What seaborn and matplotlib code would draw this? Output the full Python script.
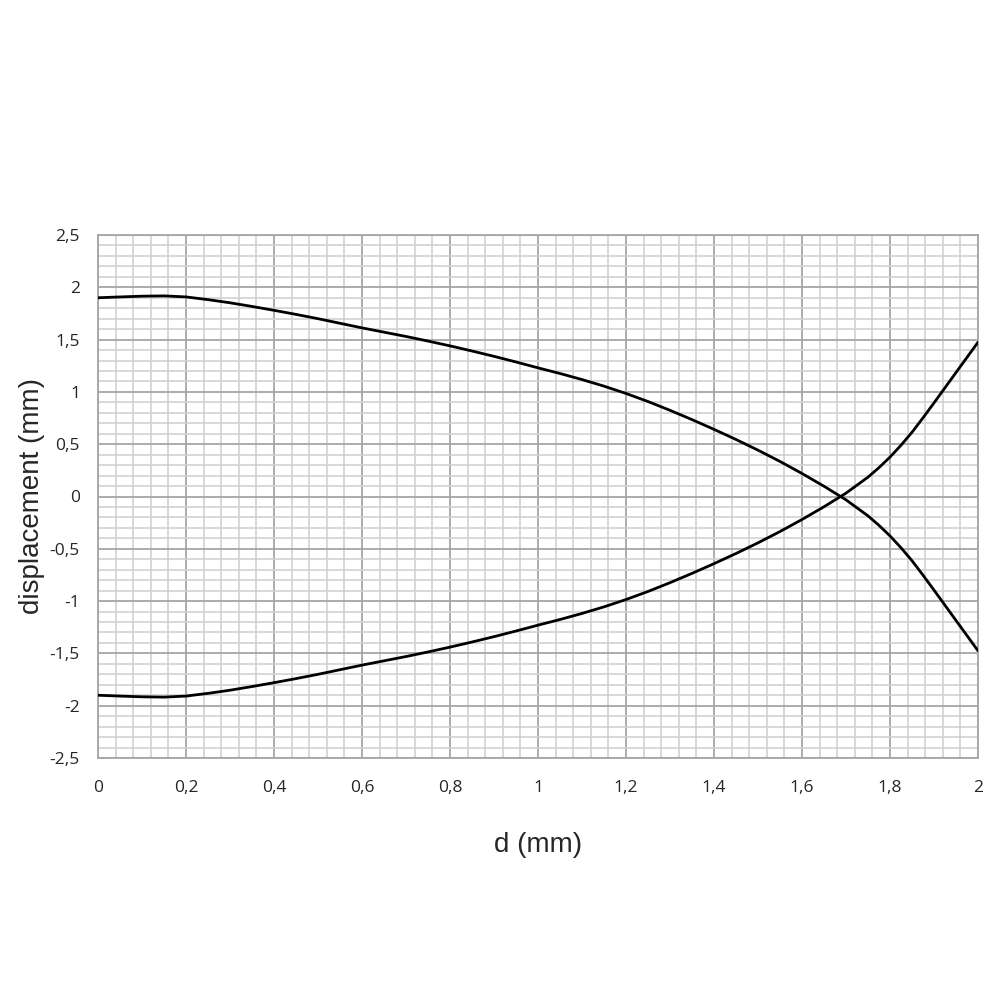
import numpy as np
import pandas as pd
import matplotlib
matplotlib.use("Agg")
import matplotlib.pyplot as plt
from matplotlib.ticker import MultipleLocator
import seaborn as sns

# values
d_mm = [0.00, 0.05, 0.10, 0.15, 0.20, 0.25, 0.30, 0.35, 0.40, 0.45,
        0.50, 0.55, 0.60, 0.65, 0.70, 0.75, 0.80, 0.85, 0.90, 0.95,
        1.00, 1.05, 1.10, 1.15, 1.20, 1.25, 1.30, 1.35, 1.40, 1.45,
        1.50, 1.55, 1.60, 1.65, 1.70, 1.75, 1.775, 1.80, 1.825, 1.85,
        1.875, 1.90, 1.95, 2.00]
upper = [1.90, 1.908, 1.915, 1.918, 1.908, 1.882, 1.852, 1.817, 1.78, 1.741,
         1.70, 1.656, 1.612, 1.571, 1.53, 1.486, 1.44, 1.391, 1.34, 1.286,
         1.23, 1.176, 1.118, 1.055, 0.985, 0.908, 0.824, 0.735, 0.642, 0.545,
         0.443, 0.335, 0.22, 0.098, -0.032, -0.185, -0.276, -0.377, -0.49, -0.614,
         -0.752, -0.895, -1.185, -1.475]
lower = [-1.90, -1.908, -1.915, -1.918, -1.908, -1.882, -1.852, -1.817, -1.78, -1.741,
         -1.70, -1.656, -1.612, -1.571, -1.53, -1.486, -1.44, -1.391, -1.34, -1.286,
         -1.23, -1.176, -1.118, -1.055, -0.985, -0.908, -0.824, -0.735, -0.642, -0.545,
         -0.443, -0.335, -0.22, -0.098, 0.032, 0.185, 0.276, 0.377, 0.49, 0.614,
         0.752, 0.895, 1.185, 1.475]

x_ticks = [0, 0.2, 0.4, 0.6, 0.8, 1.0, 1.2, 1.4, 1.6, 1.8, 2.0]
x_labels = ["0", "0,2", "0,4", "0,6", "0,8", "1", "1,2", "1,4", "1,6", "1,8", "2"]
y_ticks = [-2.5, -2, -1.5, -1, -0.5, 0, 0.5, 1, 1.5, 2, 2.5]
y_labels = ["-2,5", "-2", "-1,5", "-1", "-0,5", "0", "0,5", "1", "1,5", "2", "2,5"]

df = pd.DataFrame({
    "d": d_mm + d_mm,
    "disp": upper + lower,
    "curve": ["upper"] * len(d_mm) + ["lower"] * len(d_mm),
})

sns.set_style("white")
plt.rcParams['font.family'] = ['Open Sans', 'DejaVu Sans']

fig = plt.figure(figsize=(10, 10), dpi=100)
ax = fig.add_axes([0.098, 0.242, 0.88, 0.523])

sns.lineplot(data=df, x="d", y="disp", hue="curve", units="curve",
             estimator=None, sort=False, palette=["black", "black"],
             linewidth=2.0, legend=False, ax=ax, zorder=5)

ax.set_xlim(0, 2)
ax.set_ylim(-2.5, 2.5)
ax.xaxis.set_minor_locator(MultipleLocator(0.04))
ax.yaxis.set_minor_locator(MultipleLocator(0.1))
ax.set_xticks(x_ticks)
ax.set_xticklabels(x_labels)
ax.set_yticks(y_ticks)
ax.set_yticklabels(y_labels)

ax.grid(which="minor", color="#d2d2d2", linewidth=1.2)
ax.grid(which="major", color="#a6a6a6", linewidth=1.3)
ax.set_axisbelow(True)

ax.tick_params(axis="y", which="major", length=6, width=1.2, color="#a6a6a6",
               labelsize=12.5, pad=7)
ax.tick_params(axis="y", which="minor", length=0)
ax.tick_params(axis="x", which="both", length=0, labelsize=12.5, pad=16)
for s in ax.spines.values():
    s.set_color("#a6a6a6")
    s.set_linewidth(1.3)

ax.set_xlabel("d (mm)", fontsize=20, family=["Liberation Sans"])
ax.set_ylabel("displacement (mm)", fontsize=20, family=["Liberation Sans"])
ax.xaxis.set_label_coords(0.5, -0.142)
ax.yaxis.set_label_coords(-0.06, 0.5)

fig.savefig("out.png", dpi=100)
